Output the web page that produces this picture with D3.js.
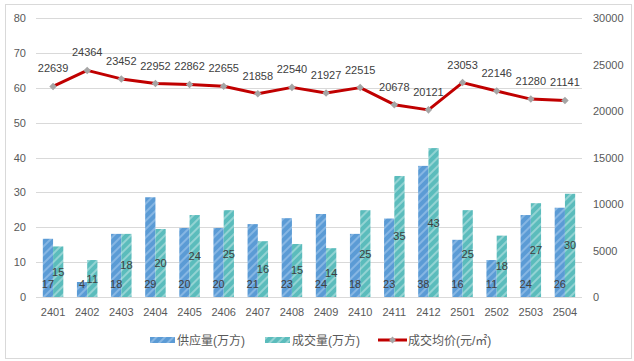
<!DOCTYPE html>
<html><head><meta charset="utf-8">
<script src="https://cdn.jsdelivr.net/npm/d3@7"></script>
<style>body{margin:0;background:#fff}svg{display:block}</style>
</head><body><svg id="c" width="634" height="361"></svg>
<script>
const categories = ["2401","2402","2403","2404","2405","2406","2407","2408","2409","2410","2411","2412","2501","2502","2503","2504"];
const supply = [16.7,4.3,18.1,28.6,19.8,19.8,20.9,22.6,23.8,18.1,22.5,37.6,16.4,10.6,23.5,25.6];
const deals  = [14.5,10.6,18.1,19.5,23.5,24.9,16.0,15.2,14.0,24.9,34.7,42.7,24.9,17.6,26.9,29.6];
const price  = [22639,24364,23452,22952,22862,22655,21858,22540,21927,22515,20678,20121,23053,22146,21280,21141];
const leftTicks = [0,10,20,30,40,50,60,70,80];
const rightTicks = [0,5000,10000,15000,20000,25000,30000];
const seriesNames = ["供应量(万方)","成交量(万方)","成交均价(元/㎡)"];

const svg = d3.select("#c");
const font = "'Liberation Sans','Noto Sans CJK SC',sans-serif";
const txt = "#595959";
const m = {l:36, r:582, t:18, b:297};

svg.append("rect").attr("x",5.5).attr("y",4.5).attr("width",626).attr("height",354)
  .attr("fill","#fff").attr("stroke","#D9D9D9");

const defs = svg.append("defs");
function pat(id, base, stripe){
  const p = defs.append("pattern").attr("id",id).attr("patternUnits","userSpaceOnUse")
    .attr("width",6).attr("height",6).attr("patternTransform","rotate(45)");
  p.append("rect").attr("width",6).attr("height",6).attr("fill",base);
  p.append("rect").attr("width",2).attr("height",6).attr("fill",stripe);
}
pat("pb","#5B9BD5","#86B6E3");
pat("pt","#5BBCBC","#93D3D3");

const x = d3.scaleBand().domain(categories).range([m.l,m.r]).padding(0);
const xi = d3.scaleBand().domain([0,1]).range([0,20.5]);
const yL = d3.scaleLinear().domain([0,80]).range([m.b,m.t]);
const yR = d3.scaleLinear().domain([0,30000]).range([m.b,m.t]);

svg.append("g").selectAll("line").data(leftTicks).join("line")
  .attr("x1",m.l).attr("x2",m.r).attr("y1",d=>Math.round(yL(d))+0.5).attr("y2",d=>Math.round(yL(d))+0.5)
  .attr("stroke","#D9D9D9").attr("stroke-width",1);

svg.append("g").selectAll("text").data(leftTicks).join("text")
  .attr("x",26).attr("y",d=>yL(d)+4).attr("text-anchor","end")
  .attr("font-family",font).attr("font-size",11).attr("fill",txt).text(d=>d);
svg.append("g").selectAll("text").data(rightTicks).join("text")
  .attr("x",593).attr("y",d=>yR(d)+4).attr("text-anchor","start")
  .attr("font-family",font).attr("font-size",11).attr("fill",txt).text(d=>d);
svg.append("g").selectAll("text").data(categories).join("text")
  .attr("x",d=>x(d)+x.bandwidth()/2).attr("y",316).attr("text-anchor","middle")
  .attr("font-family",font).attr("font-size",11).attr("fill",txt).text(d=>d);

const off = (x.bandwidth()-20.5)/2;
const g = svg.append("g");
categories.forEach((c,i)=>{
  const x0 = x(c)+off;
  g.append("rect").attr("x",x0+xi(0)).attr("width",xi.bandwidth()).attr("y",yL(supply[i])).attr("height",yL(0)-yL(supply[i])).attr("fill","url(#pb)");
  g.append("rect").attr("x",x0+xi(1)).attr("width",xi.bandwidth()).attr("y",yL(deals[i])).attr("height",yL(0)-yL(deals[i])).attr("fill","url(#pt)");
});
categories.forEach((c,i)=>{
  const x0 = x(c)+off;
  g.append("text").attr("x",x0+xi(0)+xi.bandwidth()/2).attr("y",yL(0)-9).attr("text-anchor","middle")
    .attr("font-family",font).attr("font-size",11).attr("fill","#404040").text(Math.round(supply[i]));
  g.append("text").attr("x",x0+xi(1)+xi.bandwidth()/2).attr("y",(yL(0)+yL(deals[i]))/2+4).attr("text-anchor","middle")
    .attr("font-family",font).attr("font-size",11).attr("fill","#404040").text(Math.round(deals[i]));
});

const cx = (d,i)=>x(categories[i])+x.bandwidth()/2;
svg.append("path").datum(price)
  .attr("d",d3.line().x(cx).y(d=>yR(d)))
  .attr("fill","none").attr("stroke","#C00000").attr("stroke-width",3).attr("stroke-linejoin","round");
svg.append("g").selectAll("path").data(price).join("path")
  .attr("d",d3.symbol(d3.symbolDiamond2,36))
  .attr("transform",(d,i)=>`translate(${cx(d,i)},${yR(d)})`).attr("fill","#A5A5A5");
svg.append("g").selectAll("text").data(price).join("text")
  .attr("x",cx).attr("y",d=>yR(d)-14).attr("text-anchor","middle")
  .attr("font-family",font).attr("font-size",11).attr("fill","#404040").text(d=>d);

const lg = svg.append("g").attr("font-family",font).attr("font-size",12).attr("fill",txt);
lg.append("rect").attr("x",150).attr("y",337).attr("width",25).attr("height",6).attr("fill","url(#pb)");
lg.append("text").attr("x",177).attr("y",344.5).text(seriesNames[0]);
lg.append("rect").attr("x",265).attr("y",337).attr("width",25).attr("height",6).attr("fill","url(#pt)");
lg.append("text").attr("x",292).attr("y",344.5).text(seriesNames[1]);
lg.append("line").attr("x1",378).attr("x2",407).attr("y1",340).attr("y2",340).attr("stroke","#C00000").attr("stroke-width",3);
lg.append("path").attr("d",d3.symbol(d3.symbolDiamond2,30)).attr("transform","translate(392.5,340)").attr("fill","#A5A5A5");
lg.append("text").attr("x",408).attr("y",344.5).text(seriesNames[2]);
</script></body></html>
